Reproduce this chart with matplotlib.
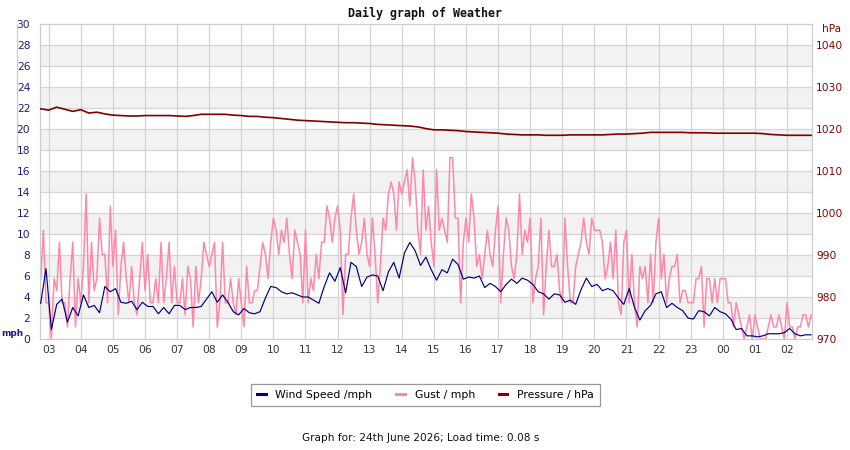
import numpy as np
import matplotlib
matplotlib.use('Agg')
from matplotlib import pyplot as plt
from matplotlib.lines import Line2D

# hours are counted from 03:00 on the left-hand day
hour_labels = ['03', '04', '05', '06', '07', '08', '09', '10', '11', '12', '13', '14',
               '15', '16', '17', '18', '19', '20', '21', '22', '23', '00', '01', '02']

# wind speed, mph, one reading every 10 minutes from 02:45
wind_mph = [3.4, 6.7, 0.9, 3.3, 3.8, 1.6, 3.0, 2.2, 4.2, 3.0, 3.2, 2.5,
            5.0, 4.5, 4.8, 3.5, 3.4, 3.6, 2.8, 3.5, 3.1, 3.1, 2.4, 3.0,
            2.4, 3.2, 3.2, 2.8, 3.0, 3.0, 3.1, 3.8, 4.5, 3.5, 4.2, 3.5,
            2.6, 2.3, 2.9, 2.5, 2.4, 2.6, 3.9, 5.0, 4.9, 4.5, 4.3, 4.4,
            4.2, 4.0, 4.0, 3.7, 3.4, 5.0, 6.3, 5.5, 6.8, 4.4, 7.3, 6.9,
            5.0, 5.9, 6.1, 6.0, 4.6, 6.4, 7.3, 5.8, 8.2, 9.2, 8.4, 7.0,
            7.8, 6.6, 5.6, 6.6, 6.3, 7.6, 7.1, 5.7, 5.9, 5.8, 6.0, 4.9,
            5.3, 5.0, 4.5, 5.2, 5.7, 5.3, 5.8, 5.6, 5.2, 4.5, 4.3, 3.8,
            4.3, 4.2, 3.5, 3.7, 3.3, 4.7, 5.8, 5.0, 5.2, 4.6, 4.8, 4.6,
            3.9, 3.3, 4.8, 3.0, 1.8, 2.7, 3.2, 4.3, 4.5, 3.0, 3.4, 3.0,
            2.7, 2.0, 1.9, 2.7, 2.6, 2.2, 3.0, 2.6, 2.4, 1.9, 0.9, 1.0,
            0.3, 0.3, 0.2, 0.3, 0.5, 0.5, 0.5, 0.6, 1.0, 0.5, 0.3, 0.4,
            0.4]

# gust, knots, one reading every 5 minutes from 02:45 (converted to mph below)
gust_kt = [5, 9, 3,
           3, 0, 5, 4, 8, 3, 3, 1, 5, 8, 1, 5,
           3, 6, 12, 3, 8, 4, 5, 10, 7, 7, 3, 11,
           6, 9, 2, 6, 8, 5, 3, 6, 3, 2, 5, 8,
           4, 7, 3, 3, 5, 3, 8, 3, 5, 8, 3, 6,
           3, 3, 5, 2, 6, 5, 1, 6, 3, 5, 8, 7,
           6, 7, 8, 1, 3, 8, 3, 3, 5, 3, 2, 5,
           3, 1, 6, 3, 3, 4, 4, 6, 8, 7, 5, 8,
           10, 9, 7, 9, 8, 10, 7, 5, 9, 8, 7, 3,
           9, 3, 5, 4, 7, 5, 8, 8, 11, 10, 8, 10,
           11, 9, 2, 7, 7, 10, 12, 9, 7, 8, 10, 7,
           6, 10, 7, 3, 6, 10, 9, 12, 13, 12, 9, 13,
           12, 13, 14, 11, 15, 13, 9, 7, 14, 9, 11, 8,
           6, 14, 9, 10, 9, 8, 15, 15, 10, 10, 3, 8,
           10, 8, 12, 10, 6, 7, 5, 7, 9, 7, 6, 9,
           11, 3, 7, 10, 9, 6, 5, 7, 12, 7, 9, 8,
           10, 3, 5, 6, 10, 2, 6, 9, 6, 6, 7, 4,
           3, 10, 6, 3, 3, 6, 7, 8, 10, 8, 7, 10,
           9, 9, 9, 8, 5, 6, 8, 5, 9, 3, 2, 8,
           9, 3, 7, 3, 1, 6, 5, 6, 3, 7, 3, 8,
           10, 5, 7, 3, 5, 6, 6, 7, 3, 4, 4, 3,
           3, 3, 5, 5, 6, 1, 5, 5, 3, 5, 3, 5,
           5, 5, 3, 3, 1, 3, 2, 1, 0, 1, 2, 0,
           2, 1, 0, 0, 0, 1, 2, 1, 1, 2, 1, 0,
           3, 1, 1, 0, 1, 1, 2, 2, 1, 2]

# pressure, hPa, one reading every 15 minutes from 02:45
pressure_hpa = [1024.8, 1024.5, 1025.2, 1024.7, 1024.2, 1024.6, 1023.8, 1024.0,
                1023.6, 1023.3, 1023.2, 1023.1, 1023.1, 1023.2, 1023.2, 1023.2,
                1023.2, 1023.1, 1023.0, 1023.2, 1023.5, 1023.5, 1023.5, 1023.5,
                1023.3, 1023.2, 1023.0, 1023.0, 1022.8, 1022.7, 1022.5, 1022.3,
                1022.1, 1022.0, 1021.9, 1021.8, 1021.7, 1021.6, 1021.5, 1021.5,
                1021.4, 1021.3, 1021.1, 1021.0, 1020.9, 1020.8, 1020.7, 1020.5,
                1020.1, 1019.8, 1019.8, 1019.7, 1019.6, 1019.4, 1019.3, 1019.2,
                1019.1, 1019.0, 1018.8, 1018.7, 1018.6, 1018.6, 1018.6, 1018.5,
                1018.5, 1018.5, 1018.6, 1018.6, 1018.6, 1018.6, 1018.6, 1018.7,
                1018.8, 1018.8, 1018.9, 1019.0, 1019.2, 1019.2, 1019.2, 1019.2,
                1019.2, 1019.1, 1019.1, 1019.1, 1019.0, 1019.0, 1019.0, 1019.0,
                1019.0, 1019.0, 1018.9, 1018.7, 1018.6, 1018.5, 1018.5, 1018.5,
                1018.5]

KT_TO_MPH = 1.151

t_wind = -0.25 + np.arange(len(wind_mph)) / 6
t_gust = -0.25 + np.arange(len(gust_kt)) / 12
t_pres = -0.25 + np.arange(len(pressure_hpa)) / 4
gust_mph = np.array(gust_kt) * KT_TO_MPH

navy = '#000080'
pink = '#ff88aa'
maroon = '#800000'
blue_txt = '#1a1a8a'
red_txt = '#8b0000'
grid_c = '#d4d4d4'

fig = plt.figure(figsize=(8.5, 4.5), dpi=100)
ax = fig.add_axes([40 / 850, 1 - 339 / 450, 772 / 850, 315 / 450])

# alternating bands and grid
for lo in range(2, 30, 4):
    ax.axhspan(lo, lo + 2, color='#f2f2f2', lw=0, zorder=0)
for y in range(2, 30, 2):
    ax.axhline(y, color=grid_c, lw=0.9, zorder=0.5)
for h in range(24):
    ax.axvline(h, color=grid_c, lw=0.9, zorder=0.5)

ax.plot(t_gust, gust_mph, color=pink, lw=1.1, zorder=2, label='Gust / mph')
ax.plot(t_wind, wind_mph, color=navy, lw=0.85, zorder=3, label='Wind Speed /mph')

ax.set_xlim(-0.271, 23.779)
ax.set_ylim(0, 30)
ax.set_yticks(range(0, 31, 2))
ax.set_xticks(range(24))
ax.set_xticklabels(hour_labels)
ax.tick_params(axis='y', length=0, pad=7, labelsize=7.7, labelcolor=blue_txt)
ax.tick_params(axis='x', length=0, pad=4, labelsize=7.7, labelcolor='#333333')
for s in ax.spines.values():
    s.set_color('#cccccc')
    s.set_linewidth(0.9)

ax2 = ax.twinx()
ax2.plot(t_pres, pressure_hpa, color=maroon, lw=1.2, zorder=4, label='Pressure / hPa')
ax2.set_ylim(970, 1045)
ax2.set_yticks(range(970, 1041, 10))
ax2.tick_params(axis='y', length=0, pad=3, labelsize=7.7, labelcolor=red_txt)
for s in ax2.spines.values():
    s.set_visible(False)

fig.text(425 / 850, 1 - 13 / 450, 'Daily graph of Weather', ha='center', va='center',
         family='DejaVu Sans Mono', weight='bold', fontsize=8.4, color='#111111')
fig.text(1 / 850, 1 - 333 / 450, 'mph', ha='left', va='center', weight='bold',
         fontsize=6.4, color=blue_txt)
fig.text(822 / 850, 1 - 29 / 450, 'hPa', ha='left', va='center',
         fontsize=7.7, color=red_txt)
fig.add_artist(Line2D([17 / 850, 17 / 850], [1 - 24 / 450, 1 - 150 / 450],
                      color='#cccccc', lw=0.9))

handles = [Line2D([], [], color=navy, lw=2.2),
           Line2D([], [], color=pink, lw=2.2),
           Line2D([], [], color=maroon, lw=2.2)]
labels = ['Wind Speed /mph', 'Gust / mph', 'Pressure / hPa']
leg = fig.legend(handles, labels, loc='center', bbox_to_anchor=(425.5 / 850, 1 - 395 / 450),
                 ncol=3, fontsize=7.8, handlelength=0.8, handletextpad=0.9,
                 columnspacing=2.2, borderpad=0.55, fancybox=False, frameon=True)
leg.get_frame().set_edgecolor('#808080')
leg.get_frame().set_linewidth(0.9)

fig.text(421 / 850, 1 - 438 / 450, 'Graph for: 24th June 2026; Load time: 0.08 s',
         ha='center', va='center', fontsize=7.6, color='#111111')

fig.savefig('out.png', dpi=100)
